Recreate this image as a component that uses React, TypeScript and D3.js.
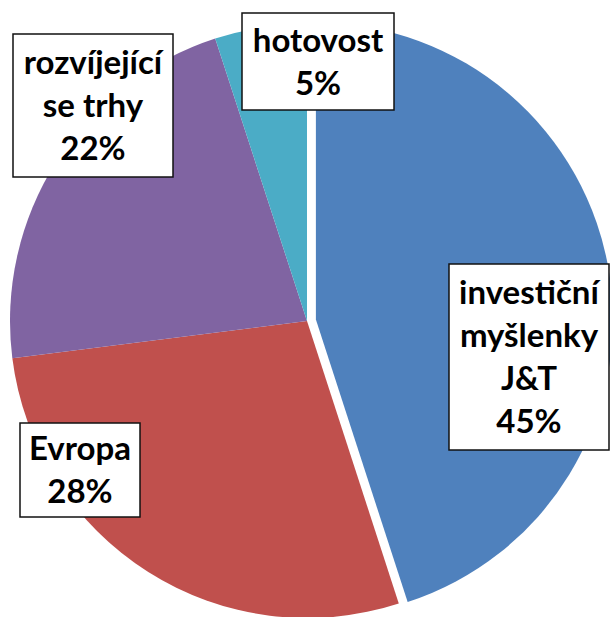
import React, { useEffect, useRef } from "react";
import * as d3 from "d3";

const categories = ["investiční myšlenky J&T", "Evropa", "rozvíjející se trhy", "hotovost"];
const values = [45, 28, 22, 5];
const labelLines = [
  ["investiční", "myšlenky", "J&T", "45%"],
  ["Evropa", "28%"],
  ["rozvíjející", "se trhy", "22%"],
  ["hotovost", "5%"],
];
const colors = ["#4F81BD", "#C0504D", "#8064A2", "#4BACC6"];

// layout (not data)
const W = 610;
const H = 617;
const CX = 307;
const CY = 321;
const R = 297;
const EXPLODE = [9, 0, 0, 0];
// label boxes: x, y, width, height
const labelBoxes: [number, number, number, number][] = [
  [449, 264, 160, 186],
  [20, 423, 120, 94],
  [13, 34, 160, 143],
  [242, 13, 152, 97],
];
const LINE_H = 43;

export default function App() {
  const ref = useRef<SVGSVGElement>(null);
  useEffect(() => {
    const svg = d3.select(ref.current);
    svg.selectAll("*").remove();
    const pie = d3.pie<number>().sort(null).startAngle(0).endAngle(2 * Math.PI);
    const arcs = pie(values);
    const arc = d3.arc<d3.PieArcDatum<number>>().innerRadius(0).outerRadius(R);
    const g = svg.append("g").attr("transform", `translate(${CX},${CY})`);
    g.selectAll("path")
      .data(arcs)
      .join("path")
      .attr("d", arc)
      .attr("fill", (_, i) => colors[i])
      .attr("transform", (d, i) => {
        const a = (d.startAngle + d.endAngle) / 2;
        return `translate(${EXPLODE[i] * Math.sin(a)},${-EXPLODE[i] * Math.cos(a)})`;
      });

    labelLines.forEach((lines, i) => {
      const [bx, by, bw, bh] = labelBoxes[i];
      const lx = bx + bw / 2;
      const ly = by + bh / 2;
      const lg = svg.append("g").attr("class", "label").attr("data-cat", categories[i]);
      lg.append("rect")
        .attr("x", bx)
        .attr("y", by)
        .attr("width", bw)
        .attr("height", bh)
        .attr("fill", "#fff")
        .attr("stroke", "#111")
        .attr("stroke-width", 1.5);
      const txt = lg
        .append("text")
        .attr("text-anchor", "middle")
        .attr("font-family", "Lato, 'Open Sans', sans-serif")
        .attr("font-weight", "bold")
        .attr("font-size", 33)
        .attr("fill", "#000");
      const n = lines.length;
      lines.forEach((line, j) => {
        txt
          .append("tspan")
          .attr("x", lx)
          .attr("y", ly + (j - (n - 1) / 2) * LINE_H)
          .attr("dy", "0.35em")
          .text(line);
      });
    });
  }, []);
  return (
    <svg
      ref={ref}
      width={W}
      height={H}
      style={{ position: "absolute", left: 0, top: 0, background: "#fff" }}
    />
  );
}
